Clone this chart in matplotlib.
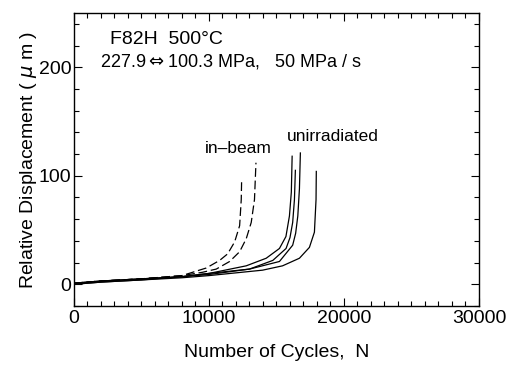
import matplotlib.pyplot as plt
from matplotlib.ticker import MultipleLocator

plt.rcParams['font.family'] = ['Liberation Sans', 'DejaVu Sans']
plt.rcParams['mathtext.fontset'] = 'dejavusans'

# in-beam tests (dashed)
inbeam1_n = [0, 2000, 5000, 8000, 9800, 10790, 11380, 11900, 12270, 12390, 12420]
inbeam1_d = [1, 3, 5, 8, 15, 22, 28, 39, 54, 78, 97]
inbeam2_n = [0, 2000, 5000, 8000, 9500, 10540, 11530, 12270, 12760, 13130, 13370, 13480]
inbeam2_d = [1, 3, 5, 8, 11, 14, 21, 30, 42, 57, 78, 112]

# unirradiated tests (solid)
unirr_a_n = [0, 2000, 5000, 8000, 10000, 12760, 14240, 15220, 15700, 15960, 16100, 16160]
unirr_a_d = [1, 3, 5, 7, 10, 17, 24, 33, 44, 63, 85, 118]
unirr_b_n = [0, 2000, 5000, 8000, 10000, 13000, 14730, 15710, 16000, 16200, 16330, 16400]
unirr_b_d = [0, 2, 4, 7, 9, 14, 22, 33, 43, 57, 78, 105]
unirr_c_n = [0, 2000, 5000, 8000, 10000, 13000, 15220, 16200, 16420, 16580, 16700, 16770]
unirr_c_d = [1, 3, 5, 7, 10, 14, 21, 36, 47, 63, 88, 121]
unirr_d_n = [0, 2000, 5000, 8000, 10000, 13970, 15450, 16700, 17440, 17810, 17930, 17950]
unirr_d_d = [0, 2, 4, 6, 8, 13, 17, 24, 34, 48, 78, 104]

fig = plt.figure(figsize=(5.12, 3.66), dpi=100)
ax = fig.add_axes([0.1445, 0.164, 0.791, 0.8005])

for n, d in [(inbeam1_n, inbeam1_d), (inbeam2_n, inbeam2_d)]:
    ax.plot(n, d, color='black', lw=0.9, dashes=(7, 3))
for n, d in [(unirr_a_n, unirr_a_d), (unirr_b_n, unirr_b_d),
             (unirr_c_n, unirr_c_d), (unirr_d_n, unirr_d_d)]:
    ax.plot(n, d, color='black', lw=0.9)

ax.set_xlim(0, 30000)
ax.set_ylim(-20, 250)
ax.xaxis.set_major_locator(MultipleLocator(10000))
ax.xaxis.set_minor_locator(MultipleLocator(1000))
ax.yaxis.set_major_locator(MultipleLocator(100))
ax.yaxis.set_minor_locator(MultipleLocator(20))
ax.tick_params(which='both', direction='in', top=True, right=True, labelsize=14, width=0.8)
ax.tick_params(which='major', length=6, pad=3)
ax.tick_params(which='minor', length=3.5)
ax.tick_params(axis='y', pad=2)
for s in ax.spines.values():
    s.set_linewidth(1.0)

ax.set_xlabel('Number of Cycles,  N', fontsize=14, labelpad=12)
ax.set_ylabel('Relative Displacement ( $\\mu$ m )', fontsize=14, labelpad=0)

ax.text(0.089, 0.91, 'F82H  500°C', transform=ax.transAxes, fontsize=14, va='center')
ax.text(0.064, 0.833, '227.9$\\Leftrightarrow$100.3 MPa,   50 MPa / s',
        transform=ax.transAxes, fontsize=13, va='center')
ax.text(9700, 125, 'in–beam', fontsize=12.5, va='center')
ax.text(15780, 136, 'unirradiated', fontsize=12.5, va='center')

fig.savefig('out.png', dpi=100)
